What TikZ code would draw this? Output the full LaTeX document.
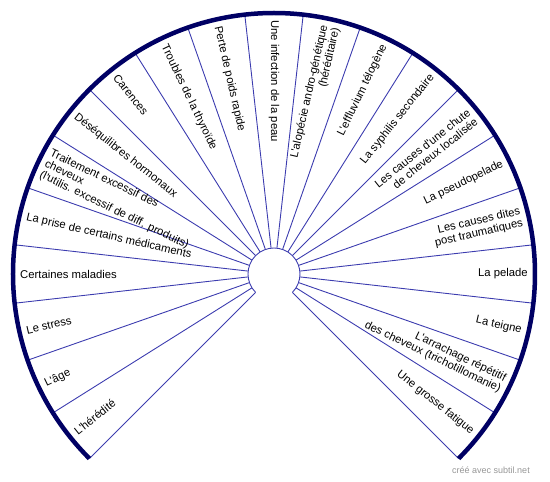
\documentclass[tikz,border=0pt]{standalone}
\usepackage{fontspec}
\setmainfont{Liberation Sans}[Ligatures=TeXOff]
\usetikzlibrary{calc}
\definecolor{rimblue}{RGB}{0,0,100}
\definecolor{spokeblue}{RGB}{60,60,175}
\definecolor{creditgray}{RGB}{150,150,150}
\newcommand{\lblfont}{\fontsize{11.3}{12}\selectfont}

\begin{document}
\begin{tikzpicture}[x=1pt, y=1pt,
    spoke/.style={spokeblue, line width=0.9pt},
    rim/.style={rimblue, line width=4.5pt},
    lblright/.style={anchor=east, inner sep=0pt, align=right, font=\lblfont},
    lblleft/.style={anchor=west, inner sep=0pt, align=left, font=\lblfont}]
  \useasboundingbox (-274,-208) rectangle (276,274);
  \coordinate (hub) at (0,0);
  % spokes and hub
  \foreach \k in {0,...,21}{
    \pgfmathsetmacro\a{-45+\k*270/21}
    \draw[spoke] ($(hub)+(\a:26)$) -- ($(hub)+(\a:261)$);
  }
  \draw[spoke] ($(hub)+(-45:26)$) arc[start angle=-45, end angle=225, radius=26];
  \draw[rim] ($(hub)+(-45:261)$) arc[start angle=-45, end angle=225, radius=261];
  % right half
  \foreach \k/\txt in {0/{Une grosse fatigue},
      1/{L'arrachage répétitif\\des cheveux (trichotillomanie)},
      2/{La teigne}, 3/{La pelade},
      4/{Les causes dites\\post traumatiques},
      5/{La pseudopelade},
      6/{Les causes d'une chute\\de cheveux localisée},
      7/{La syphilis secondaire},
      8/{L'effluvium télogène},
      9/{L'alopécie andro-génétique\\(héréditaire)}}{
    \pgfmathsetmacro\a{-45+(\k+0.5)*270/21}
    \node[lblright, rotate=\a] (lbl\k) at ($(hub)+(\a:254)$) {\txt};
  }
  % left half
  \foreach \k/\txt in {10/{Une infection de la peau},
      11/{Perte de poids rapide},
      12/{Troubles de la thyroïde},
      13/{Carences},
      14/{Déséquilibres hormonaux},
      15/{Traitement excessif des\\cheveux\\(l'utilis. excessif de diff. produits)},
      16/{La prise de certains médicaments},
      17/{Certaines maladies}, 18/{Le stress},
      19/{L'âge}, 20/{L'hérédité}}{
    \pgfmathsetmacro\a{-45+(\k+0.5)*270/21}
    \node[lblleft, rotate=\a-180] (lbl\k) at ($(hub)+(\a:254)$) {\txt};
  }
  \node[font=\fontsize{9}{10}\selectfont, text=creditgray] (credit) at (217,-196) {créé avec subtil.net};
\end{tikzpicture}
\end{document}
